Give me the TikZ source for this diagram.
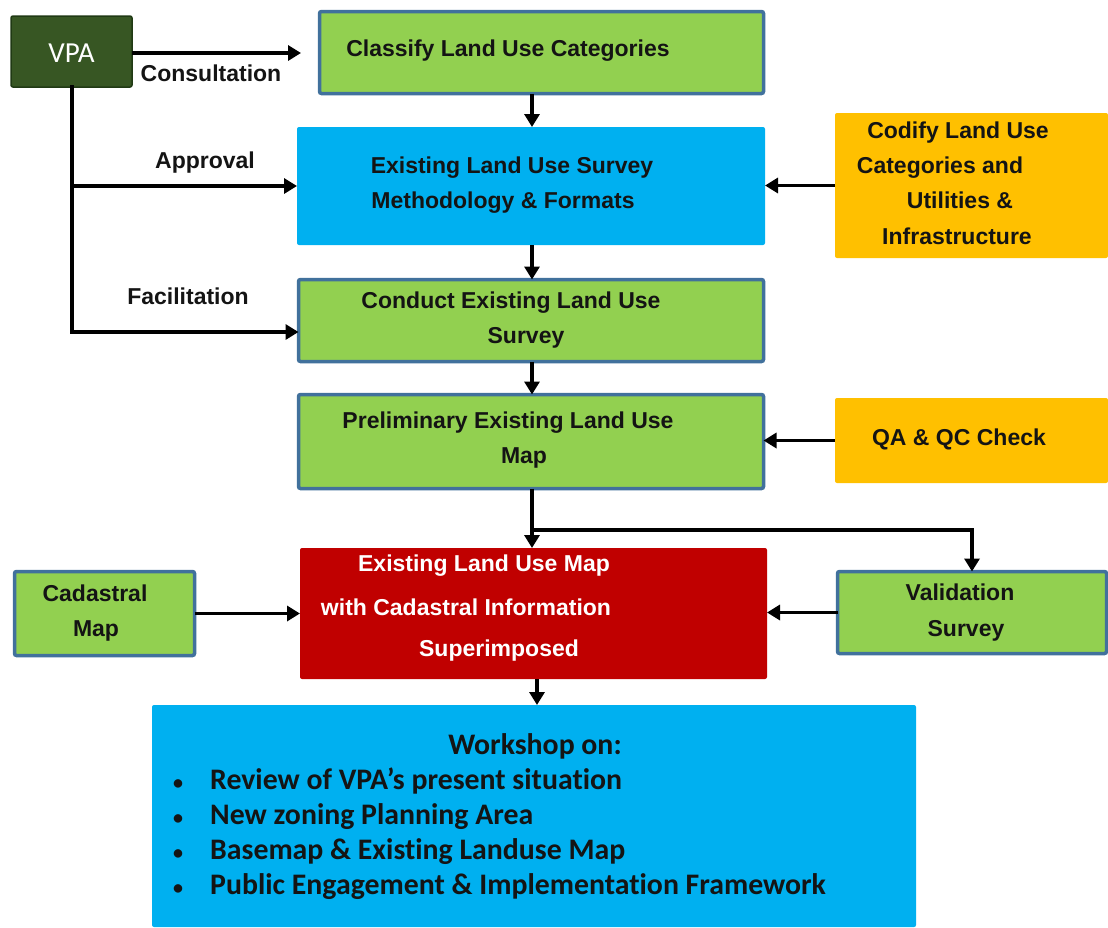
\documentclass[tikz,border=0pt]{standalone}
\usepackage{fontspec}
\setmainfont{Liberation Sans}
\newfontfamily\calib[Ligatures=NoCommon]{Carlito}
\usetikzlibrary{arrows.meta}
\definecolor{lgreen}{HTML}{92D050}
\definecolor{bord}{HTML}{41719C}
\definecolor{cyanb}{HTML}{00B0F0}
\definecolor{amber}{HTML}{FFC000}
\definecolor{dred}{HTML}{C00000}
\definecolor{vpag}{HTML}{375623}
\definecolor{vpab}{HTML}{203A14}
\definecolor{txtc}{HTML}{141414}
\begin{document}
\begin{tikzpicture}[x=1pt,y=-1pt,
  box/.style={rectangle, inner sep=0pt, outer sep=0pt, rounded corners=2pt},
  gbox/.style={box, fill=lgreen, draw=bord, line width=3.5pt},
  bbox/.style={box, fill=cyanb},
  obox/.style={box, fill=amber},
  rbox/.style={box, fill=dred},
  txt/.style={font=\fontsize{23}{35}\selectfont\bfseries, inner sep=0pt, anchor=base, text=txtc},
  wtxt/.style={txt, text=white},
  wks/.style={font=\calib\fontsize{29.8}{35}\selectfont\bfseries, inner sep=0pt, anchor=base west, text=txtc},
  bul/.style={font=\calib\fontsize{20}{35}\selectfont\bfseries, inner sep=0pt, anchor=base, text=txtc},
  arr/.style={line width=3.5pt, -{Triangle[length=13pt,width=15pt]}},
  ln/.style={line width=3.5pt}]
\useasboundingbox (0,0) rectangle (1108,927);
\fill[white] (0,0) rectangle (1108,927);

% boxes
\node[box, fill=vpag, draw=vpab, line width=1.5pt, minimum width=121pt, minimum height=71pt] (vpa) at (71.5,51.5) {};
\node[gbox, minimum width=444pt, minimum height=82pt] (classify) at (541.5,52.5) {};
\node[bbox, minimum width=468pt, minimum height=118pt] (blue) at (531,186) {};
\node[obox, minimum width=273pt, minimum height=145pt] (codify) at (971.5,185.5) {};
\node[gbox, minimum width=465pt, minimum height=82pt] (conduct) at (531,320.5) {};
\node[gbox, minimum width=465pt, minimum height=94pt] (prelim) at (531,441.5) {};
\node[obox, minimum width=273pt, minimum height=85pt] (qa) at (971.5,440.5) {};
\node[rbox, minimum width=467pt, minimum height=131pt] (red) at (533.5,613.5) {};
\node[gbox, minimum width=180pt, minimum height=84pt] (cad) at (104.5,613.5) {};
\node[gbox, minimum width=269pt, minimum height=82pt] (val) at (972,612.5) {};
\node[bbox, minimum width=764pt, minimum height=222pt] (wk) at (534,816) {};

% texts
\node[font=\calib\fontsize{29}{35}\selectfont, text=white, inner sep=0pt, anchor=base] (tvpa) at (71.5,62) {VPA};
\node[txt] (tcl) at (508,56) {Classify Land Use Categories};
\node[txt] (tbl1) at (512,173) {Existing Land Use Survey};
\node[txt] (tbl2) at (503,208) {Methodology \& Formats};
\node[txt] (tco1) at (511,308) {Conduct Existing Land Use};
\node[txt] (tco2) at (526,343) {Survey};
\node[txt] (tpr1) at (508,428) {Preliminary Existing Land Use};
\node[txt] (tpr2) at (524,463) {Map};
\node[txt] (tqa) at (959,445) {QA \& QC Check};
\node[txt] (tcd1) at (958,138) {Codify Land Use};
\node[txt] (tcd2) at (940,173) {Categories and};
\node[txt] (tcd3) at (960,208) {Utilities \&};
\node[txt] (tcd4) at (957,244) {Infrastructure};
\node[txt] (tca1) at (95,601) {Cadastral};
\node[txt] (tca2) at (96,636) {Map};
\node[txt] (tva1) at (960,600) {Validation};
\node[txt] (tva2) at (966,636) {Survey};
\node[wtxt] (tre1) at (484,571) {Existing Land Use Map};
\node[wtxt] (tre2) at (466,615) {with Cadastral Information};
\node[wtxt] (tre3) at (499,656) {Superimposed};
\node[txt] (lcons) at (211,81) {Consultation};
\node[txt] (lappr) at (205,168) {Approval};
\node[txt] (lfac) at (188,304) {Facilitation};

\node[wks, anchor=base] (wt) at (535,754) {Workshop on:};
\node[bul] (b1) at (178,789) {•};
\node[wks] (w1) at (210,789) {Review of VPA’s present situation};
\node[bul] (b2) at (178,824) {•};
\node[wks] (w2) at (210,824) {New zoning Planning Area};
\node[bul] (b3) at (178,859) {•};
\node[wks] (w3) at (210,859) {Basemap \& Existing Landuse Map};
\node[bul] (b4) at (178,894) {•};
\node[wks] (w4) at (210,894) {Public Engagement \& Implementation Framework};

% helper coordinates
\coordinate (xc) at (532,0);
\coordinate (xc2) at (537,0);
\coordinate (vx) at (72,0);
\coordinate (fy) at (0,332);
\coordinate (cend) at (301,53);
\coordinate (br) at (532,530);
\coordinate (brr) at (972,530);

% connectors
\draw[arr] (vpa.east |- cend) -- (cend);
\draw[ln, line cap=rect] (vpa.south -| vx) -- (vx |- fy);
\draw[arr] (vx |- blue.west) -- (blue.west);
\draw[arr] (vx |- fy) -- (conduct.west |- fy);
\draw[arr] (classify.south -| xc) -- (blue.north -| xc);
\draw[arr] (blue.south -| xc) -- (conduct.north -| xc);
\draw[arr] (conduct.south -| xc) -- (prelim.north -| xc);
\draw[arr] (prelim.south -| xc) -- (red.north -| xc);
\draw[arr] (br) -- (brr) -- (val.north);
\draw[arr] (codify.west) -- (blue.east |- codify.west);
\draw[arr] (qa.west) -- (prelim.east |- qa.west);
\draw[arr] (cad.east) -- (red.west |- cad.east);
\draw[arr] (val.west) -- (red.east |- val.west);
\draw[arr] (red.south -| xc2) -- (wk.north -| xc2);
\end{tikzpicture}
\end{document}
